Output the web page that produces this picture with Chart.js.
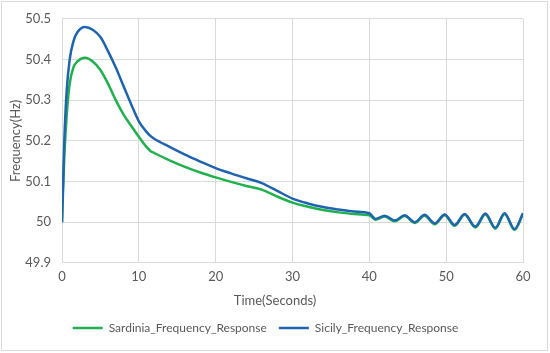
<!DOCTYPE html>
<html>
<head>
<meta charset="utf-8">
<script src="https://cdn.jsdelivr.net/npm/chart.js@4.4.0/dist/chart.umd.min.js"></script>
<style>
  html, body { margin: 0; padding: 0; background: #fff; }
  #wrap { width: 550px; height: 353px; position: relative; }
</style>
</head>
<body>
<div id="wrap"><canvas id="freqChart"></canvas></div>
<script>
// time axis (seconds) and frequency readings (Hz)
const timeSec = [0, 0.3, 0.6, 1, 1.5, 2, 3, 4, 5, 6, 7, 8, 9, 10, 11, 11.5, 12, 14, 16, 18, 20, 22, 24, 26, 28, 30, 32, 34, 36, 38, 40,
  40.8, 42.0, 43.3, 44.6, 45.9, 47.2, 48.5, 49.8, 51.1, 52.4, 53.8, 55.1, 56.4, 57.6, 58.9, 60];

const sardiniaFreq = [50.0, 50.16, 50.26, 50.34, 50.381, 50.395, 50.404, 50.395, 50.374, 50.34, 50.30, 50.265, 50.237, 50.21, 50.185, 50.175, 50.17,
  50.152, 50.136, 50.122, 50.11, 50.099, 50.089, 50.08, 50.063, 50.048, 50.038, 50.03, 50.024, 50.02, 50.017,
  50.006, 50.014, 50.002, 50.015, 49.998, 50.016, 49.995, 50.017, 49.991, 50.018, 49.987, 50.019, 49.984, 50.02, 49.981, 50.02];

const sicilyFreq = [50.0, 50.2, 50.32, 50.4, 50.445, 50.467, 50.48, 50.473, 50.455, 50.42, 50.38, 50.335, 50.29, 50.248, 50.222, 50.212, 50.205,
  50.185, 50.166, 50.149, 50.133, 50.12, 50.108, 50.096, 50.077, 50.058, 50.046, 50.037, 50.031, 50.026, 50.022,
  50.008, 50.016, 50.004, 50.017, 50.0, 50.018, 49.997, 50.019, 49.993, 50.02, 49.989, 50.021, 49.986, 50.022, 49.983, 50.022];

const xTicks = [0, 10, 20, 30, 40, 50, 60];
const yTicks = [49.9, 50, 50.1, 50.2, 50.3, 50.4, 50.5];
const xTitle = 'Time(Seconds)';

function toPoints(values) {
    return values.map((v, i) => ({ x: timeSec[i], y: v }));
}

const textColor = '#595959';
const gridColor = '#d9d9d9';
const fontFamily = 'Lato, "Open Sans", sans-serif';
Chart.defaults.font.family = fontFamily;

// light frame around the whole chart, and the x title centred on the chart like Excel does
const framePlugin = {
    id: 'frame',
    beforeDraw(chart) {
        const c = chart.ctx;
        c.save();
        c.fillStyle = '#ffffff';
        c.fillRect(0, 0, chart.width, chart.height);
        c.strokeStyle = gridColor;
        c.lineWidth = 1;
        c.strokeRect(1.5, 1.5, chart.width - 4, chart.height - 4);
        c.restore();
    },
    afterDraw(chart) {
        const c = chart.ctx;
        const xs = chart.scales.x;
        c.save();
        c.fillStyle = textColor;
        c.font = '13px ' + fontFamily;
        c.textAlign = 'center';
        c.textBaseline = 'middle';
        c.fillText(xTitle, chart.width / 2, xs.bottom - 9);
        c.restore();
    }
};

const ctx = document.getElementById('freqChart').getContext('2d');
const chart = new Chart(ctx, {
    type: 'line',
    data: {
        datasets: [
            {
                label: 'Sardinia_Frequency_Response',
                data: toPoints(sardiniaFreq),
                borderColor: '#21b04e',
                backgroundColor: '#21b04e',
                borderWidth: 2.5,
                pointRadius: 0,
                cubicInterpolationMode: 'monotone',
                order: 2
            },
            {
                label: 'Sicily_Frequency_Response',
                data: toPoints(sicilyFreq),
                borderColor: '#1f64ad',
                backgroundColor: '#1f64ad',
                borderWidth: 2.5,
                pointRadius: 0,
                cubicInterpolationMode: 'monotone',
                order: 1
            }
        ]
    },
    options: {
        responsive: true,
        maintainAspectRatio: false,
        animation: false,
        layout: {
            padding: { left: 8, right: 27, top: 16, bottom: 9 }
        },
        plugins: {
            legend: {
                position: 'bottom',
                labels: {
                    color: textColor,
                    font: { size: 12 },
                    usePointStyle: true,
                    pointStyle: 'line',
                    pointStyleWidth: 30,
                    boxHeight: 2,
                    padding: 12,
                    sort: (a, b) => a.datasetIndex - b.datasetIndex
                }
            },
            tooltip: { enabled: false }
        },
        scales: {
            x: {
                type: 'linear',
                min: 0,
                max: 60,
                afterBuildTicks: axis => { axis.ticks = xTicks.map(v => ({ value: v })); },
                ticks: { color: textColor, font: { size: 13 }, padding: 6 },
                grid: { color: gridColor, drawTicks: false },
                border: { color: gridColor },
                title: {
                    display: true,
                    text: xTitle,
                    color: 'rgba(0,0,0,0)',
                    font: { size: 13 },
                    padding: { top: 4, bottom: 0 }
                }
            },
            y: {
                min: 49.9,
                max: 50.5,
                afterBuildTicks: axis => { axis.ticks = yTicks.map(v => ({ value: v })); },
                afterFit: axis => { axis.width = 54; },
                ticks: {
                    color: textColor,
                    font: { size: 13 },
                    padding: 11,
                    callback: v => String(parseFloat(Number(v).toFixed(1)))
                },
                grid: { color: gridColor, drawTicks: false },
                border: { color: gridColor },
                title: {
                    display: true,
                    text: 'Frequency(Hz)',
                    color: textColor,
                    font: { size: 13 },
                    padding: 0
                }
            }
        }
    },
    plugins: [framePlugin]
});
</script>
</body>
</html>
